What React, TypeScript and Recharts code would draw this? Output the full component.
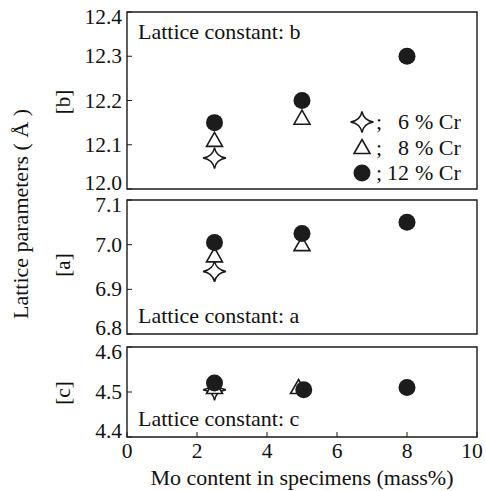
import { ScatterChart, Scatter, XAxis, YAxis, ReferenceArea } from "recharts";

const FONT = '"Liberation Serif", "Times New Roman", serif';
const INK = "#1a1a1a";

// shared x axis: Mo content (mass%)
const moTicks = [0, 2, 4, 6, 8, 10];

// [b] lattice constant b
const bTicks = [12.0, 12.1, 12.2, 12.3, 12.4];
const bCr6 = [{ mo: 2.5, v: 12.07 }];
const bCr8 = [{ mo: 2.5, v: 12.11 }, { mo: 5, v: 12.16 }];
const bCr12 = [{ mo: 2.5, v: 12.15 }, { mo: 5, v: 12.2 }, { mo: 8, v: 12.3 }];

// [a] lattice constant a
const aTicks = [6.8, 6.9, 7.0, 7.1];
const aCr6 = [{ mo: 2.5, v: 6.94 }];
const aCr8 = [{ mo: 2.5, v: 6.975 }, { mo: 5, v: 7.0 }];
const aCr12 = [{ mo: 2.5, v: 7.005 }, { mo: 5, v: 7.025 }, { mo: 8, v: 7.05 }];

// [c] lattice constant c
const cTicks = [4.4, 4.5, 4.6];
const cCr6 = [{ mo: 2.5, v: 4.505 }];
const cCr8 = [{ mo: 2.5, v: 4.51 }, { mo: 4.9, v: 4.51 }];
const cCr12 = [{ mo: 2.5, v: 4.52 }, { mo: 5.05, v: 4.505 }, { mo: 8, v: 4.51 }];

const legendItems = [
  { key: "cr6", num: "6" },
  { key: "cr8", num: "8" },
  { key: "cr12", num: "12" },
];

const Star = ({ cx, cy }: any) => {
  const rx = 11.5, ry = 10.5, a = 1.6;
  return (
    <path
      d={`M${cx},${cy - ry} Q${cx + a},${cy - a} ${cx + rx},${cy} Q${cx + a},${cy + a} ${cx},${cy + ry} Q${cx - a},${cy + a} ${cx - rx},${cy} Q${cx - a},${cy - a} ${cx},${cy - ry}Z`}
      fill="#fff"
      stroke={INK}
      strokeWidth={1.5}
    />
  );
};

const Triangle = ({ cx, cy }: any) => (
  <path
    d={`M${cx},${cy - 8} L${cx + 8},${cy + 6} L${cx - 8},${cy + 6}Z`}
    fill="#fff"
    stroke={INK}
    strokeWidth={1.6}
  />
);

const Dot = ({ cx, cy }: any) => <circle cx={cx} cy={cy} r={8.5} fill="#1c1c1c" />;

// end labels sit a little inside the frame, like the printed figure
const YTick = ({ x, y, payload, index, visibleTicksCount }: any) => {
  const shift = index === 0 ? -6 : index === visibleTicksCount - 1 ? 5 : 0;
  return (
    <text x={x} y={y + shift} textAnchor="end" dominantBaseline="central" fontSize={21.5} fill="#111" fontFamily={FONT}>
      {payload.value.toFixed(1)}
    </text>
  );
};

const XTick = ({ x, y, payload, index, visibleTicksCount }: any) => {
  const shift = index === visibleTicksCount - 1 ? -5 : 0;
  return (
    <text x={x + shift} y={y} dy="0.71em" textAnchor="middle" fontSize={21.5} fill="#111" fontFamily={FONT}>
      {payload.value}
    </text>
  );
};

function Panel({ top, height, margin, domain, ticks, cr6, cr8, cr12, caption, captionPos, bottomAxis }: any) {
  return (
    <div style={{ position: "absolute", left: 0, top, width: 486, height }}>
      <ScatterChart width={486} height={height} margin={margin}>
        <XAxis
          type="number"
          dataKey="mo"
          domain={[0, 10]}
          ticks={moTicks}
          interval={0}
          axisLine={false}
          tickSize={-5}
          tickMargin={11}
          height={bottomAxis ? 54 : 0}
          tick={bottomAxis ? <XTick /> : () => <g />}
          tickLine={{ stroke: INK }}
          label={
            bottomAxis
              ? { value: "Mo content in specimens (mass%)", position: "insideBottom", offset: 6, style: { fontSize: 22, fill: "#111", fontFamily: FONT } }
              : undefined
          }
        />
        <YAxis
          type="number"
          dataKey="v"
          domain={domain}
          ticks={ticks}
          interval={0}
          width={50}
          axisLine={false}
          tickSize={-5}
          tickMargin={10}
          tick={<YTick />}
          tickLine={{ stroke: INK }}
        />
        <ReferenceArea
          x1={0}
          x2={10}
          y1={domain[0]}
          y2={domain[1]}
          fill="none"
          stroke={INK}
          strokeWidth={1.4}
          label={{ value: caption, position: captionPos, offset: 11, style: { fontSize: 22, fill: "#111", fontFamily: FONT } }}
        />
        <Scatter data={cr6} shape={Star} isAnimationActive={false} />
        <Scatter data={cr8} shape={Triangle} isAnimationActive={false} />
        <Scatter data={cr12} shape={Dot} isAnimationActive={false} />
      </ScatterChart>
    </div>
  );
}

export default function App() {
  const legendShape: any = { cr6: Star, cr8: Triangle, cr12: Dot };
  return (
    <div style={{ position: "absolute", left: 0, top: 0, width: 486, height: 491, background: "#fff", fontFamily: FONT }}>
      <Panel
        top={0}
        height={200}
        margin={{ top: 12, right: 9, bottom: 11, left: 77 }}
        domain={[12.0, 12.4]}
        ticks={bTicks}
        cr6={bCr6}
        cr8={bCr8}
        cr12={bCr12}
        caption="Lattice constant: b"
        captionPos="insideTopLeft"
      />
      <Panel
        top={190}
        height={150}
        margin={{ top: 10, right: 9, bottom: 6, left: 77 }}
        domain={[6.8, 7.1]}
        ticks={aTicks}
        cr6={aCr6}
        cr8={aCr8}
        cr12={aCr12}
        caption="Lattice constant: a"
        captionPos="insideBottomLeft"
      />
      <Panel
        top={340}
        height={151}
        margin={{ top: 7, right: 9, bottom: 0, left: 77 }}
        domain={[4.4, 4.6]}
        ticks={cTicks}
        cr6={cCr6}
        cr8={cCr8}
        cr12={cCr12}
        caption="Lattice constant: c"
        captionPos="insideBottomLeft"
        bottomAxis
      />
      <svg width={486} height={491} style={{ position: "absolute", left: 0, top: 0, pointerEvents: "none" }}>
        <g fontFamily={FONT} fill="#111">
          <text x={20} y={214} fontSize={22} textAnchor="middle" dominantBaseline="central" transform="rotate(-90 20 214)">
            Lattice parameters ( Å )
          </text>
          <text x={63} y={102} fontSize={21} textAnchor="middle" dominantBaseline="central" transform="rotate(-90 63 102)">[b]</text>
          <text x={63} y={265} fontSize={21} textAnchor="middle" dominantBaseline="central" transform="rotate(-90 63 265)">[a]</text>
          <text x={63} y={393} fontSize={21} textAnchor="middle" dominantBaseline="central" transform="rotate(-90 63 393)">[c]</text>
          {legendItems.map((item, i) => {
            const cy = 122 + i * 25.5;
            const Shape = legendShape[item.key];
            return (
              <g key={item.key}>
                <Shape cx={362} cy={cy} />
                <text x={376} y={cy + 7} fontSize={22}>;</text>
                <text x={409} y={cy + 7} fontSize={22} textAnchor="end">{item.num}</text>
                <text x={415} y={cy + 7} fontSize={22}>% Cr</text>
              </g>
            );
          })}
        </g>
      </svg>
    </div>
  );
}
